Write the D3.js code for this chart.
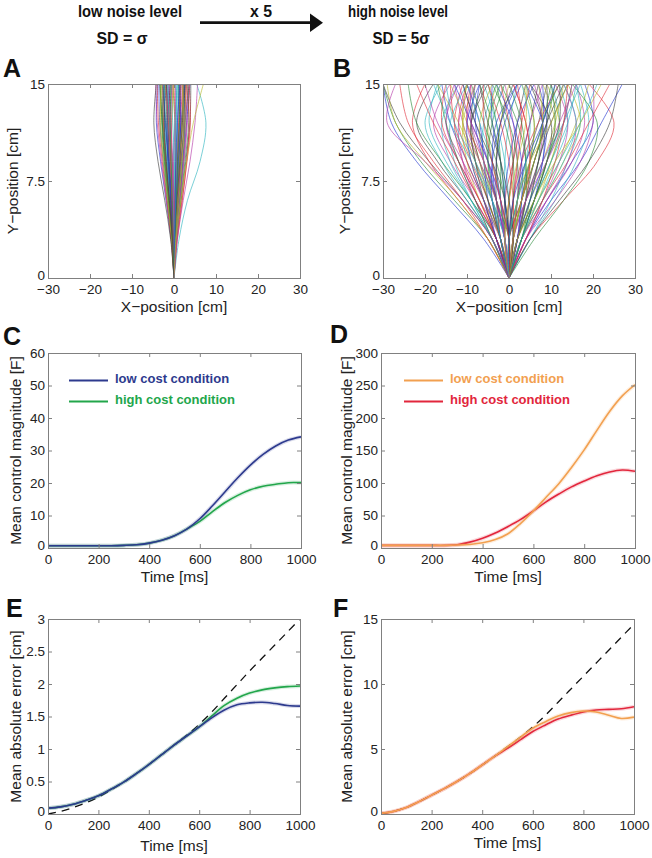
<!DOCTYPE html>
<meta charset="utf-8">
<style>
  body { margin: 0; background: #fff; }
  svg { display: block; }
  text { font-family: "Liberation Sans", Arial, sans-serif; fill: #222; }
  .tick text { font-size: 13.5px; fill: #222; }
  .tick line { stroke: #808080; }
  .domain { display: none; }
  .frame { fill: none; stroke: #808080; stroke-width: 1; shape-rendering: crispEdges; }
  .label { font-size: 15.5px; }
  .panel { font-size: 25px; font-weight: bold; fill: #111; }
  .head { font-size: 16px; font-weight: bold; fill: #111; }
  .legend { font-size: 13px; font-weight: bold; }
  .traj { fill: none; stroke-width: 0.75; stroke-opacity: 0.85; }
  .curve { fill: none; stroke-width: 1.6; }
  .band { fill: none; stroke-width: 4; stroke-opacity: 0.18; }
  .dash { fill: none; stroke: #111; stroke-width: 1.3; stroke-dasharray: 8,6; }
</style>
<body>
<svg width="652" height="858"></svg>
<script src="https://d3js.org/d3.v7.min.js"></script>
<script>

// ---- data ----
// trajectories: x position [cm] at these y positions (first point is the start at 0,0)
var trajY = [0, 3, 6, 9, 12, 15];

var lowNoiseX = [
  [0.1,0.3,0.6,0.9,1.2], [-0.1,-0.4,-0.8,-1.0,-0.6], [0.3,0.9,1.5,2.0,2.2], [-0.3,-0.9,-1.6,-2.2,-2.4],
  [0.5,1.4,2.4,3.2,3.4], [-0.5,-1.4,-2.4,-3.2,-3.0], [0.6,1.7,2.8,3.8,4.0], [-0.7,-1.9,-3.2,-4.2,-3.9],
  [0.0,0.1,0.3,0.2,-0.3], [0.2,0.4,0.5,0.3,0.0], [-0.2,-0.3,-0.2,0.2,0.8], [0.4,1.0,1.4,1.6,1.2],
  [-0.4,-1.1,-1.8,-2.6,-3.2], [0.2,0.8,1.6,2.6,3.6], [-0.6,-1.6,-2.6,-3.4,-3.6], [0.1,0.0,-0.4,-1.0,-1.8],
  [-0.1,0.2,0.7,1.4,2.2], [0.3,0.6,0.7,0.6,0.4], [-0.3,-0.6,-0.9,-1.1,-1.0], [0.5,1.2,2.0,2.8,2.6],
  [-0.2,-0.8,-1.4,-1.8,-1.6], [0.4,1.3,2.2,3.0,3.8], [-0.4,-1.3,-2.2,-2.9,-2.2], [0.0,-0.2,-0.5,-0.6,-0.2],
  [0.2,0.6,1.1,1.3,0.9], [-0.6,-1.8,-3.0,-4.0,-4.4], [0.6,1.5,2.2,2.6,2.0], [-0.1,-0.5,-1.2,-2.0,-2.8],
  [0.1,0.5,1.0,1.7,2.6], [-0.5,-1.2,-1.9,-2.4,-2.0], [0.3,1.1,1.9,2.5,2.9], [-0.3,-0.7,-1.3,-1.9,-2.6],
  [0.0,0.3,0.9,1.5,1.8], [-0.2,-0.5,-0.6,-0.5,-0.1], [0.4,0.8,1.2,1.8,2.4], [-0.4,-1.0,-1.5,-1.6,-1.2],
  [0.5,1.6,2.6,3.5,3.2], [-0.7,-1.7,-2.8,-3.7,-4.0], [0.2,0.2,0.1,-0.3,-0.8], [-0.1,-0.2,-0.1,0.3,0.4],
  [0.3,0.7,1.3,2.2,3.0], [-0.3,-1.0,-2.0,-2.8,-3.4], [0.1,0.6,1.2,1.6,1.4], [-0.5,-1.5,-2.3,-2.7,-2.4],
  [0.7,1.9,3.1,3.9,3.6], [-0.2,-0.9,-1.7,-2.4,-2.9], [0.2,0.9,1.7,2.3,2.0], [0.0,-0.4,-0.9,-1.5,-2.0],
  [0.2,0.5,0.8,1.2,1.6], [-0.2,-0.6,-1.1,-1.5,-1.8], [0.4,1.1,1.8,2.3,2.5], [-0.4,-1.2,-2.0,-2.5,-2.7],
  [0.1,0.2,0.2,0.5,1.0], [-0.1,-0.1,-0.3,-0.7,-1.3], [0.3,0.8,1.3,1.9,2.2], [-0.3,-0.8,-1.2,-1.4,-0.9],
  [0.5,1.3,2.1,2.6,2.4], [-0.5,-1.3,-2.1,-2.8,-3.3], [0.0,0.2,0.6,1.1,1.5], [0.0,-0.3,-0.7,-1.2,-1.5],
  [0.6,1.4,2.3,3.0,2.8], [-0.6,-1.5,-2.5,-3.3,-3.0], [0.2,0.7,1.4,2.0,2.7], [-0.2,-0.7,-1.3,-2.1,-2.4],
  [0.3,0.5,0.9,1.3,1.1], [-0.3,-0.5,-0.8,-1.3,-1.9], [0.1,0.4,0.6,0.8,0.5], [-0.1,-0.3,-0.5,-0.8,-0.5],
  [0.4,1.2,1.9,2.4,1.9], [-0.4,-1.1,-1.8,-2.3,-1.8], [0.2,0.3,0.4,0.8,1.4], [-0.2,-0.4,-0.7,-0.9,-0.7],
  [0.8,2.0,3.0,3.6,3.0],
  [1.2,3.2,6.2,7.6,5.4], [0.8,2.2,3.8,5.0,5.6], [0.5,1.6,3.0,4.6,7.0], [-0.8,-2.2,-3.8,-4.8,-4.2]
];

var highNoiseX = [
  [-1,-3,-6,-8,-7], [1,3,5,6,4], [-2,-5,-9,-12,-10], [2,5,9,12,10], [-3,-8,-14,-18,-14],
  [3,8,13,17,14], [-4,-10,-17,-22,-18], [4,9,15,20,18], [-5,-13,-21,-27,-30], [5,13,21,25,19],
  [0,-1,-1,0,2], [0,1,2,1,-1], [-1,-2,-4,-5,-3], [1,2,4,7,9], [-2,-6,-10,-14,-16],
  [2,6,10,13,15], [-3,-7,-11,-13,-11], [3,7,11,14,12], [-1,-4,-8,-11,-13], [1,4,8,11,13],
  [-4,-11,-19,-26,-30], [4,10,17,22,27], [-2,-4,-5,-4,-1], [2,4,5,4,1], [-3,-9,-15,-19,-17],
  [3,9,15,18,16], [0,-2,-3,-2,0], [0,2,3,5,7], [-1,-3,-5,-8,-11], [1,3,6,9,11],
  [-5,-12,-19,-23,-20], [5,11,16,19,17], [-2,-7,-12,-17,-20], [2,7,12,16,19], [-3,-6,-8,-9,-6],
  [3,6,8,9,7], [-1,-2,-2,-3,-5], [1,1,2,3,2], [-4,-9,-14,-16,-12], [4,8,12,14,11],
  [-2,-5,-7,-10,-14], [2,5,7,10,14], [-6,-14,-22,-28,-30], [6,13,19,21,15], [-1,-1,1,3,5],
  [1,0,-1,-3,-6], [-3,-8,-12,-15,-13], [3,7,10,12,9], [-2,-4,-7,-9,-8], [2,3,5,8,8],
  [0,-1,-3,-6,-9], [0,1,3,7,12], [-4,-10,-16,-20,-16], [4,11,17,20,20], [-3,-7,-10,-11,-8],
  [3,6,9,10,5], [-1,-3,-4,-3,2], [1,3,4,2,-2], [-5,-11,-18,-24,-26], [5,10,14,17,16],
  [-2,-6,-11,-15,-12], [2,5,9,11,8], [0,0,1,2,4], [0,-1,-2,-4,-4], [-3,-9,-16,-22,-24],
  [3,8,14,19,24], [-1,-4,-6,-6,-3], [1,4,7,8,6], [-2,-5,-8,-12,-17], [2,4,6,9,13],
  [-1,-2,-3,-1,3], [1,2,2,0,-4], [-2,-3,-6,-10,-9], [2,4,8,13,17], [-4,-8,-11,-12,-9],
  [0,-3,-7,-11,-10], [0,3,6,8,5], [-3,-5,-6,-7,-10], [3,5,7,8,12], [-1,0,1,0,-2],
  [-1,-2,-4,-7,-10], [1,2,3,5,8], [-2,-4,-6,-7,-4], [2,4,7,9,9], [0,-2,-5,-9,-13],
  [0,2,5,8,10], [-3,-6,-10,-13,-14], [3,6,10,14,16], [-1,-3,-7,-10,-8], [1,3,5,6,3],
  [-2,-3,-3,-2,1], [2,3,3,1,-3], [-1,-1,-2,-4,-7], [1,1,0,-2,-5], [-4,-9,-13,-14,-10],
  [4,9,14,16,13], [-2,-6,-9,-11,-10], [2,6,9,12,12], [0,-1,0,2,6], [0,1,1,-1,-3],
  [-3,-8,-13,-18,-22], [3,7,12,17,21], [-1,-2,-5,-9,-12], [1,2,5,10,14], [-2,-5,-8,-9,-5],
  [2,5,8,8,4], [0,-3,-5,-5,-2], [0,3,5,4,1], [-1,-4,-9,-14,-18], [1,4,9,13,15],
  [-5,-12,-20,-27,-29], [5,12,19,24,26], [-2,-4,-4,-2,2], [2,4,4,3,0], [-3,-7,-12,-16,-15],
  [3,8,13,16,13], [-1,-3,-6,-9,-9], [1,3,6,8,7], [0,-1,-4,-8,-11], [0,1,4,8,11],
  [-4,-8,-12,-15,-17], [4,8,11,13,14], [-2,-4,-8,-13,-15], [2,4,8,12,16], [-1,0,2,4,4],
  [1,0,-2,-5,-7], [-3,-6,-9,-10,-7], [3,6,9,11,10], [0,-2,-4,-6,-6], [0,2,4,5,3],
  [-4,-11,-20,-29,-27], [2,6,11,17,22]
];

var timeMs = [0,50,100,150,200,250,300,350,400,450,500,550,600,650,700,750,800,850,900,950,1000];

// C: control magnitude, low noise
var ctrlLowNoiseLowCost  = [0.7,0.7,0.7,0.7,0.7,0.7,0.8,1.0,1.5,2.4,3.8,5.9,9.0,13.0,17.3,21.6,25.5,28.8,31.4,33.2,34.2];
var ctrlLowNoiseHighCost = [0.7,0.7,0.7,0.7,0.7,0.7,0.8,1.0,1.5,2.4,3.8,5.9,8.2,11.2,14.0,16.2,17.9,19.0,19.6,20.1,20.1];
// D: control magnitude, high noise
var ctrlHighNoiseLowCost  = [4,4,4,4,4,4,4.5,5.5,8,13,22,38,57,78,99,124,151,181,210,234,251];
var ctrlHighNoiseHighCost = [4,4,4,4,4,4,5,9,15,23,33,44,57,71,83,94,103,111,117,120,118];
// E: absolute error, low noise
var errLowNoiseLowCost  = [0.09,0.11,0.15,0.21,0.28,0.38,0.49,0.62,0.76,0.91,1.06,1.2,1.34,1.48,1.6,1.68,1.71,1.72,1.7,1.67,1.66];
var errLowNoiseHighCost = [0.09,0.11,0.15,0.21,0.28,0.38,0.49,0.62,0.76,0.91,1.06,1.2,1.34,1.51,1.67,1.78,1.86,1.91,1.94,1.96,1.97];
var errLowNoiseOpen     = [0,0.04,0.1,0.17,0.26,0.37,0.49,0.62,0.76,0.91,1.06,1.21,1.38,1.57,1.78,1.99,2.2,2.4,2.6,2.8,3.0];
// F: absolute error, high noise
var errHighNoiseLowCost  = [0.05,0.2,0.5,0.95,1.45,1.95,2.5,3.1,3.77,4.45,5.18,5.9,6.6,7.1,7.54,7.8,7.92,7.85,7.6,7.35,7.45];
var errHighNoiseHighCost = [0.05,0.2,0.5,0.95,1.45,1.95,2.5,3.1,3.77,4.45,5.05,5.7,6.35,6.85,7.3,7.6,7.85,8.0,8.05,8.1,8.25];
var errHighNoiseOpen     = [0,0.2,0.5,0.95,1.45,1.95,2.5,3.1,3.77,4.45,5.18,5.9,6.7,7.6,8.6,9.6,10.6,11.6,12.6,13.6,14.6];

var posTicksX = [-30,-20,-10,0,10,20,30];
var posTicksY = [0,7.5,15];
var timeTicks = [0,200,400,600,800,1000];

var legendLabels = ["low cost condition", "high cost condition"];

// ---- drawing ----
var svg = d3.select("svg");
var trajColors = ["#2436d0","#2a8a3a","#e0303a","#2fb5c0","#b53aa8","#b8b82a","#404040"];
var navy = "#2d3a8e", green = "#22a64b", orange = "#f2a050", red = "#e2263c";

function fmt(d) { return (d < 0 ? "\u2212" : "") + Math.abs(d); }

function makePanel(box, xDom, yDom, xTicks, yTicks, id) {
  var x = d3.scaleLinear().domain(xDom).range([box.l, box.r]);
  var y = d3.scaleLinear().domain(yDom).range([box.b, box.t]);
  var g = svg.append("g");

  svg.append("clipPath").attr("id", "clip" + id)
    .append("rect").attr("x", box.l).attr("y", box.t)
    .attr("width", box.r - box.l).attr("height", box.b - box.t);

  var plot = g.append("g").attr("clip-path", "url(#clip" + id + ")");

  g.append("g").attr("transform", "translate(0," + box.b + ")")
    .call(d3.axisBottom(x).tickValues(xTicks).tickFormat(fmt).tickSizeInner(-4).tickSizeOuter(0).tickPadding(6.5));
  g.append("g").attr("transform", "translate(0," + box.t + ")")
    .call(d3.axisTop(x).tickValues(xTicks).tickFormat("").tickSizeInner(-4).tickSizeOuter(0));
  var yAx = g.append("g").attr("transform", "translate(" + box.l + ",0)")
    .call(d3.axisLeft(y).tickValues(yTicks).tickFormat(fmt).tickSizeInner(-4).tickSizeOuter(0).tickPadding(3));
  g.append("g").attr("transform", "translate(" + box.r + ",0)")
    .call(d3.axisRight(y).tickValues(yTicks).tickFormat("").tickSizeInner(-4).tickSizeOuter(0));

  // keep the corner "0" clear of the first x tick label
  yAx.selectAll(".tick text").filter(function(d) { return d === yDom[0]; }).attr("dy", "0.1em");

  g.append("rect").attr("class", "frame")
    .attr("x", box.l + 0.5).attr("y", box.t + 0.5)
    .attr("width", box.r - box.l).attr("height", box.b - box.t);

  return { x: x, y: y, g: g, plot: plot, box: box };
}

function axisLabels(p, xLab, yLab, xOff, yBase) {
  p.g.append("text").attr("class", "label")
    .attr("x", (p.box.l + p.box.r) / 2).attr("y", p.box.b + xOff)
    .attr("text-anchor", "middle").text(xLab);
  p.g.append("text").attr("class", "label")
    .attr("transform", "translate(" + yBase + "," + (p.box.t + p.box.b) / 2 + ") rotate(-90)")
    .attr("text-anchor", "middle").text(yLab);
}

function trajectories(p, data) {
  var line = d3.line()
    .x(function(d) { return p.x(d[0]); })
    .y(function(d) { return p.y(d[1]); })
    .curve(d3.curveCatmullRom.alpha(0.5));
  p.plot.selectAll("path.traj").data(data).enter().append("path")
    .attr("class", "traj")
    .attr("stroke", function(d, i) { return trajColors[i % trajColors.length]; })
    .attr("d", function(xs) {
      var pts = [[0, trajY[0]]];
      xs.forEach(function(v, i) { pts.push([v, trajY[i + 1]]); });
      return line(pts);
    });
}

function series(p, values, color, cls) {
  var line = d3.line()
    .x(function(d, i) { return p.x(timeMs[i]); })
    .y(function(d) { return p.y(d); })
    .curve(d3.curveCatmullRom.alpha(0.5));
  if (cls === "dash") {
    p.plot.append("path").datum(values).attr("class", "dash").attr("d", line);
    return;
  }
  p.plot.append("path").datum(values).attr("class", "band").attr("stroke", color).attr("d", line);
  p.plot.append("path").datum(values).attr("class", "curve").attr("stroke", color).attr("d", line);
}

function legend(p, x0, colors) {
  var ys = [380.5, 401.5];
  legendLabels.forEach(function(lab, i) {
    p.g.append("line").attr("x1", x0).attr("x2", x0 + 39)
      .attr("y1", ys[i]).attr("y2", ys[i])
      .attr("stroke", colors[i]).attr("stroke-width", 2);
    p.g.append("text").attr("class", "legend")
      .attr("x", x0 + 46).attr("y", ys[i] + 2.5)
      .style("fill", colors[i]).text(lab);
  });
}

// A
var pA = makePanel({l: 48, r: 300, t: 84, b: 278}, [-30, 30], [0, 15], posTicksX, posTicksY, "A");
trajectories(pA, lowNoiseX);
axisLabels(pA, "X\u2212position [cm]", "Y\u2212position [cm]", 34, 18);

// B
var pB = makePanel({l: 383, r: 635, t: 84, b: 278}, [-30, 30], [0, 15], posTicksX, posTicksY, "B");
trajectories(pB, highNoiseX);
axisLabels(pB, "X\u2212position [cm]", "Y\u2212position [cm]", 34, 350);

// C
var pC = makePanel({l: 48, r: 301, t: 353, b: 548}, [0, 1000], [0, 60], timeTicks, [0,10,20,30,40,50,60], "C");
series(pC, ctrlLowNoiseHighCost, green);
series(pC, ctrlLowNoiseLowCost, navy);
legend(pC, 69, [navy, green]);
axisLabels(pC, "Time [ms]", "Mean control magnitude [F]", 34, 21);

// D
var pD = makePanel({l: 381, r: 635, t: 353, b: 548}, [0, 1000], [0, 300], timeTicks, [0,50,100,150,200,250,300], "D");
series(pD, ctrlHighNoiseHighCost, red);
series(pD, ctrlHighNoiseLowCost, orange);
legend(pD, 404, [orange, red]);
axisLabels(pD, "Time [ms]", "Mean control magnitude [F]", 34, 352);

// E
var pE = makePanel({l: 48, r: 300, t: 619, b: 814}, [0, 1000], [0, 3], timeTicks, [0,0.5,1,1.5,2,2.5,3], "E");
series(pE, errLowNoiseOpen, "#111", "dash");
series(pE, errLowNoiseHighCost, green);
series(pE, errLowNoiseLowCost, navy);
axisLabels(pE, "Time [ms]", "Mean absolute error [cm]", 37, 21);

// F
var pF = makePanel({l: 381, r: 634, t: 619, b: 814}, [0, 1000], [0, 15], timeTicks, [0,5,10,15], "F");
series(pF, errHighNoiseOpen, "#111", "dash");
series(pF, errHighNoiseHighCost, red);
series(pF, errHighNoiseLowCost, orange);
axisLabels(pF, "Time [ms]", "Mean absolute error [cm]", 34, 352);

// panel letters
[["A", 3, 77], ["B", 333, 77], ["C", 3, 345], ["D", 330, 343], ["E", 6, 617], ["F", 333, 617]]
  .forEach(function(d) {
    svg.append("text").attr("class", "panel").attr("x", d[1]).attr("y", d[2]).text(d[0]);
  });

// header
function head(txt, cx, y, w) {
  svg.append("text").attr("class", "head").attr("x", cx).attr("y", y)
    .attr("text-anchor", "middle").attr("textLength", w).attr("lengthAdjust", "spacingAndGlyphs")
    .text(txt);
}
head("low noise level", 130, 17, 104);
head("SD = \u03c3", 122, 44, 51);
head("x 5", 261, 17, 22);
head("high noise level", 398, 17, 100);
head("SD = 5\u03c3", 401, 44, 57);

svg.append("line").attr("x1", 200).attr("x2", 312).attr("y1", 22.7).attr("y2", 22.7)
  .attr("stroke", "#111").attr("stroke-width", 2.8);
svg.append("path").attr("d", "M310,13.5L323,22.7L310,32Z").attr("fill", "#111");

</script>
</body>
